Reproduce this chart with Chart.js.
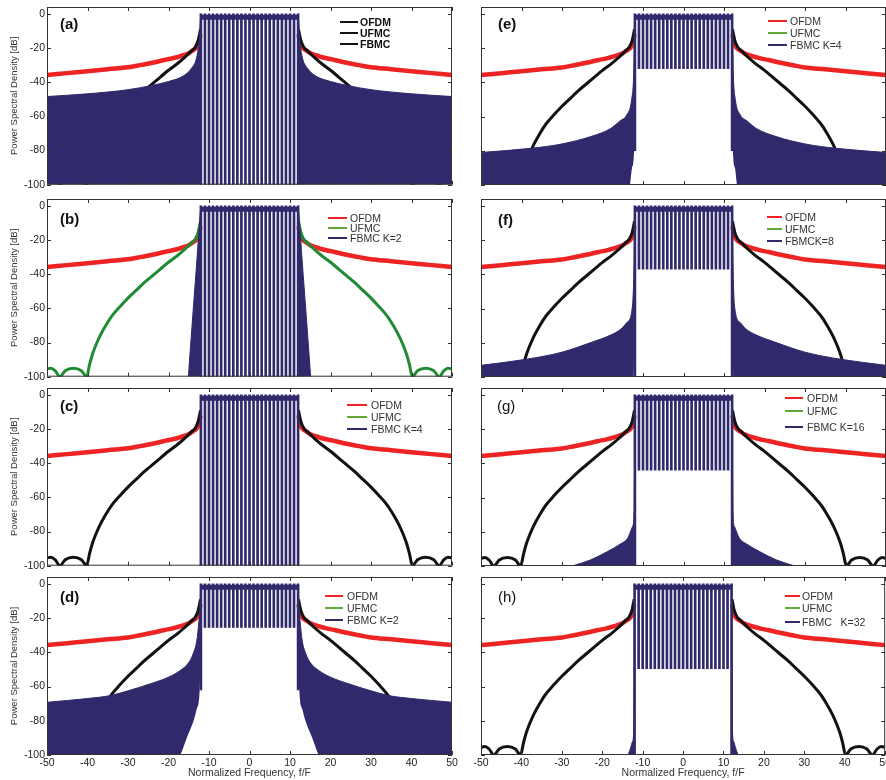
<!DOCTYPE html>
<html>
<head>
<meta charset="utf-8">
<title>PSD comparison OFDM / UFMC / FBMC</title>
<script src="https://cdn.jsdelivr.net/npm/chart.js@4.4.0/dist/chart.umd.min.js"></script>
<style>
  html, body { margin: 0; padding: 0; background: #fff; width: 886px; height: 780px; overflow: hidden; position: relative; }
  canvas { position: absolute; }
</style>
</head>
<body>
<script>
// ---- axis ticks ----
const xTicks = [-50, -40, -30, -20, -10, 0, 10, 20, 30, 40, 50];
const yTicks = [-100, -80, -60, -40, -20, 0];

// ---- panel labels ----
const panelLetters = ['(a)', '(b)', '(c)', '(d)', '(e)', '(f)', '(g)', '(h)'];
const fbmcNames = ['FBMC', 'FBMC K=2', 'FBMC K=4', 'FBMC K=2', 'FBMC K=4', 'FBMCK=8', 'FBMC K=16', 'FBMC   K=32'];

// ---- OFDM / UFMC (left half, [f/F, dB]; spectra are symmetric, right half is the mirror) ----
const ofdmHalf = [[-50,-35.8],[-45,-34.7],[-40,-33.6],[-35,-32.4],[-30,-31.3],[-27,-30],[-24,-28.6],
  [-21,-27],[-19,-26],[-17,-24.7],[-15,-23],[-14,-21.4],[-13,-19.5],[-12.5,-17],[-12.1,-12]];
const ufmcHalf = [[-50,-95.5],[-49,-95],[-48,-96.5],[-46.8,-100],[-45.5,-96.5],[-43.5,-95],[-41.5,-96.5],
  [-40.2,-100],[-39.5,-93],[-38.8,-87],[-38.1,-82.5],[-37,-76.5],[-35.5,-70],[-34,-64.5],[-32,-59],
  [-30,-54],[-28,-49.5],[-26,-45],[-24,-41],[-22,-37],[-20,-33],[-18,-29.5],[-16,-25.5],[-14.5,-22],
  [-13.4,-19.5],[-12.6,-15],[-12.1,-9]];

// ---- FBMC in-band comb: null positions, floors per panel a..h ----
const teethX = [-12,-11,-10,-9,-8,-7,-6,-5,-4,-3,-2,-1,0,1,2,3,4,5,6,7,8,9,10,11,12];
const combTop = -2;
const combFloor = [-100, -100, -100, -25.5, -32, -37, -44, -49.6];
const edgeFloor = [-100, -100, -100, -62, -80, -100, -100, -100];

// ---- FBMC out-of-band envelopes (left half): upper and lower ----
const upA = [[-50,-48.4],[-40,-46.8],[-30,-44.4],[-24.5,-42.1],[-20,-39.6],[-16.3,-36.3],[-14.3,-31.8],[-13.1,-26],[-12.5,-17],[-12.2,-7],[-12,0]];
const upB = [[-15.1,-100],[-14,-64],[-13,-32],[-12.3,-8],[-12,0]];
const upD = [[-50,-69.2],[-40,-67],[-34.4,-65.3],[-30,-62.5],[-24.5,-58.4],[-20,-54.5],[-17.1,-50.6],[-15,-46],[-13.9,-40.8],[-13,-33],[-12.5,-22],[-12.2,-12],[-12,0]];
const loD = [[-50,-125],[-18,-103],[-17.1,-100],[-15.5,-90],[-13.8,-80],[-13,-73],[-12.3,-62],[-12,-25.5]];
const upE = [[-50,-81],[-37.8,-78.6],[-30,-76],[-22.9,-71.7],[-18,-67],[-15.7,-62.6],[-14,-59],[-12.8,-50],[-12.3,-35],[-12,0]];
const loE = [[-50,-130],[-14,-110],[-13.2,-100],[-12.7,-90],[-12.2,-80],[-12,-32]];
const upF = [[-50,-93.2],[-39,-89.7],[-30,-85.5],[-22.9,-79.9],[-18,-75.5],[-15.5,-72.1],[-14,-68.2],[-12.6,-58.5],[-12.2,-33],[-12,0]];
const loF = [[-50,-130],[-13,-110],[-12.3,-100],[-12.1,-70],[-12,-37]];
const upG = [[-27.5,-100],[-23,-96.5],[-18.8,-91.6],[-15.5,-87],[-13.8,-83.8],[-12.6,-77],[-12.2,-68],[-12,0]];
const loG = [[-27.5,-130],[-13,-110],[-12.2,-100],[-12.05,-70],[-12,-44]];
const upH = [[-13.6,-100],[-13,-96],[-12.5,-92],[-12.2,-85],[-12,0]];

// colours / fonts
const FONT = '"Liberation Sans", Arial, Helvetica, sans-serif';
const NAVY = '#302a6c';
const RED = '#ee2424';
const BLACK = '#121212';
const GREEN_LINE = '#1f8b32';
const GREEN_KEY = '#62a836';
const TEXT = '#222';

// layout: frame tops of the four rows, 178px high
const rowTop = [7, 199, 388, 577];

// per panel settings (position of legend / letter relative to plot area)
const panels = [
  { col:0, row:0, up:upA, lo:null, key:{x0:293, x1:311, tx:313, rows:[16,27,38]}, lt:[13,18], allBlack:true },
  { col:0, row:1, up:upB, lo:null, key:{x0:281, x1:300, tx:303, rows:[20,30,40]}, lt:[13,21], green:true },
  { col:0, row:2, up:null, lo:null, key:{x0:300, x1:320, tx:324, rows:[18,30,42]}, lt:[13,19] },
  { col:0, row:3, up:upD, lo:loD, key:{x0:278, x1:296, tx:300, rows:[20,32,44]}, lt:[13,21] },
  { col:1, row:0, up:upE, lo:loE, key:{x0:287, x1:306, tx:309, rows:[15,27,39]}, lt:[17,18] },
  { col:1, row:1, up:upF, lo:loF, key:{x0:286, x1:301, tx:304, rows:[19,31,43]}, lt:[17,22] },
  { col:1, row:2, up:upG, lo:loG, key:{x0:304, x1:322, tx:326, rows:[11,24,40]}, lt:[16,19], thin:true },
  { col:1, row:3, up:upH, lo:null, key:{x0:304, x1:319, tx:321, rows:[20,32,46]}, lt:[17,21], thin:true }
];

const pts = arr => arr.map(p => ({x: p[0], y: p[1]}));
const mirror = arr => arr.slice().reverse().map(p => ({x: -p[0], y: p[1]}));
const bothSides = arr => pts(arr).concat([{x: 0, y: null}], mirror(arr));

function buildDatasets(p, i) {
  const ds = [];
  const last = teethX.length - 1;
  // comb nulls (floating bars from floor to 0 dB)
  ds.push({
    type: 'bar',
    data: teethX.map((x, k) => ({x: x, y: [(k === 0 || k === last) ? edgeFloor[i] : combFloor[i], 0]})),
    backgroundColor: NAVY, borderWidth: 0, barThickness: 2, grouped: false
  });
  // comb peaks
  ds.push({
    type: 'line',
    data: [{x: teethX[0], y: combTop}, {x: teethX[last], y: combTop}],
    borderColor: NAVY, borderWidth: 5, pointRadius: 0, fill: false, clip: 0
  });
  // out-of-band FBMC
  if (p.up) {
    [pts, mirror].forEach(side => {
      const upIdx = ds.length;
      const up = {
        type: 'line', data: side(p.up), borderColor: NAVY, backgroundColor: NAVY,
        borderWidth: 1, pointRadius: 0, cubicInterpolationMode: 'monotone', clip: 0
      };
      ds.push(up);
      if (p.lo) {
        up.fill = upIdx + 1;
        ds.push({
          type: 'line', data: side(p.lo), borderWidth: 0, borderColor: 'rgba(0,0,0,0)',
          pointRadius: 0, cubicInterpolationMode: 'monotone', fill: false, clip: 0
        });
      } else {
        up.fill = 'start';
      }
    });
  }
  // UFMC
  ds.push({
    type: 'line', data: bothSides(ufmcHalf), borderColor: p.green ? GREEN_LINE : BLACK,
    borderWidth: 3, pointRadius: 0, cubicInterpolationMode: 'monotone', fill: false, clip: 0
  });
  // OFDM
  ds.push({
    type: 'line', data: bothSides(ofdmHalf), borderColor: RED,
    borderWidth: 4.5, pointRadius: 0, cubicInterpolationMode: 'monotone', fill: false, clip: 0
  });
  return ds;
}

// frame, inward ticks, panel letter and legend
const decor = {
  id: 'decor',
  afterDraw(chart, args, o) {
    const {ctx, chartArea: a, scales: {x, y}} = chart;
    ctx.save();
    ctx.strokeStyle = '#333';
    ctx.lineWidth = 1;
    ctx.strokeRect(a.left + 0.5, a.top + 0.5, a.width - 1, a.height - 1);
    ctx.beginPath();
    xTicks.forEach(v => {
      const px = Math.round(x.getPixelForValue(v)) + 0.5;
      ctx.moveTo(px, a.top); ctx.lineTo(px, a.top + 4);
      ctx.moveTo(px, a.bottom); ctx.lineTo(px, a.bottom - 4);
    });
    yTicks.forEach(v => {
      const py = Math.round(y.getPixelForValue(v)) + 0.5;
      ctx.moveTo(a.left, py); ctx.lineTo(a.left + 4, py);
      ctx.moveTo(a.right, py); ctx.lineTo(a.right - 4, py);
    });
    ctx.stroke();

    // panel letter
    ctx.fillStyle = '#111';
    ctx.textBaseline = 'middle';
    ctx.font = (o.thin ? '' : 'bold ') + '15px ' + FONT;
    ctx.fillText(o.letter, a.left + o.lt[0], a.top + o.lt[1]);

    // legend
    const k = o.key;
    ctx.font = (o.allBlack ? 'bold ' : '') + '10.5px ' + FONT;
    o.entries.forEach((e, j) => {
      const yy = a.top + k.rows[j];
      ctx.strokeStyle = e.color;
      ctx.lineWidth = 2;
      ctx.beginPath();
      ctx.moveTo(a.left + k.x0, yy - 1);
      ctx.lineTo(a.left + k.x1, yy - 1);
      ctx.stroke();
      ctx.fillStyle = o.allBlack ? '#111' : '#333';
      ctx.fillText(e.text, a.left + k.tx, yy);
    });
    ctx.restore();
  }
};

panels.forEach((p, i) => {
  const bottom = p.row === 3;
  const left = p.col ? 470 : 0;
  const width = p.col ? 423 : 462;
  const height = bottom ? 214 : 196;
  const c = document.createElement('canvas');
  c.width = width; c.height = height;
  c.style.left = left + 'px';
  c.style.top = (rowTop[p.row] - 10) + 'px';
  document.body.appendChild(c);

  const entries = p.allBlack
    ? [{text: 'OFDM', color: BLACK}, {text: 'UFMC', color: BLACK}, {text: fbmcNames[i], color: BLACK}]
    : [{text: 'OFDM', color: RED}, {text: 'UFMC', color: GREEN_KEY}, {text: fbmcNames[i], color: NAVY}];

  new Chart(c, {
    type: 'line',
    data: { datasets: buildDatasets(p, i) },
    plugins: [decor],
    options: {
      responsive: false, animation: false, devicePixelRatio: 1, events: [],
      layout: { padding: { top: 10, bottom: bottom ? 0 : 8, left: 0, right: p.col ? 7 : 10 } },
      plugins: {
        legend: { display: false },
        tooltip: { enabled: false },
        decor: { letter: panelLetters[i], lt: p.lt, key: p.key, entries: entries, allBlack: !!p.allBlack, thin: !!p.thin }
      },
      scales: {
        x: {
          type: 'linear', min: -50, max: 50, offset: false,
          grid: { display: false, drawTicks: false }, border: { display: false },
          afterBuildTicks: s => { s.ticks = xTicks.map(v => ({value: v})); },
          afterFit: s => { s.height = bottom ? 26 : 0; },
          ticks: { display: bottom, autoSkip: false, maxRotation: 0, padding: 2, color: TEXT, font: { family: FONT, size: 10.5 } },
          title: { display: bottom, text: 'Normalized Frequency, f/F', color: '#333', font: { family: FONT, size: 10.5 }, padding: { top: 0, bottom: 2 } }
        },
        y: {
          type: 'linear', min: -100, max: 4,
          grid: { display: false, drawTicks: false }, border: { display: false },
          afterBuildTicks: s => { s.ticks = yTicks.map(v => ({value: v})); },
          afterFit: s => { s.width = p.col ? 11 : 47; },
          ticks: { display: p.col === 0, padding: 2, color: TEXT, font: { family: FONT, size: 10.5 } },
          title: { display: p.col === 0, text: 'Power Spectral Density [dB]', color: '#333', font: { family: FONT, size: 9.5 }, padding: { top: 9, bottom: 0 } }
        }
      }
    }
  });
});
</script>
</body>
</html>
